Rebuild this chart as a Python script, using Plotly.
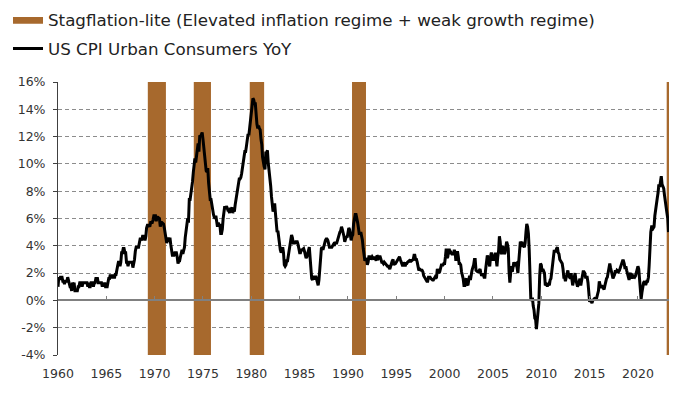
import plotly.graph_objects as go
import pandas as pd

# US CPI Urban Consumers YoY (%), monthly
cpi_1960s = [
    1.0, 1.7, 1.5, 1.7, 1.7, 1.7, 1.4, 1.4, 1.2, 1.4, 1.4, 1.4,
    1.7, 1.4, 1.4, 1.0, 1.0, 0.7, 1.3, 1.0, 1.3, 0.7, 0.7, 0.7,
    0.7, 1.0, 1.0, 1.3, 1.3, 1.3, 1.0, 1.3, 1.3, 1.3, 1.3, 1.3,
    1.3, 1.0, 1.3, 1.0, 1.0, 1.3, 1.3, 1.3, 1.0, 1.3, 1.3, 1.6,
    1.6, 1.6, 1.3, 1.3, 1.3, 1.3, 1.3, 1.0, 1.3, 1.0, 1.3, 1.0,
    1.0, 1.0, 1.3, 1.6, 1.6, 1.9, 1.6, 1.9, 1.6, 1.9, 1.6, 1.9,
    1.9, 2.5, 2.5, 2.8, 2.8, 2.5, 2.8, 3.5, 3.5, 3.8, 3.8, 3.5,
    3.5, 2.8, 2.8, 2.5, 2.8, 2.8, 2.8, 2.8, 2.8, 2.4, 2.7, 3.0,
    3.6, 3.9, 3.9, 3.9, 3.9, 4.2, 4.5, 4.5, 4.4, 4.7, 4.7, 4.7,
    4.4, 4.7, 5.3, 5.5, 5.5, 5.5, 5.4, 5.7, 5.7, 5.7, 5.9, 6.2,
]
cpi_1970s = [
    6.2, 6.2, 5.8, 6.1, 6.1, 6.0, 6.0, 5.4, 5.7, 5.7, 5.6, 5.6,
    5.3, 5.0, 4.7, 4.2, 4.4, 4.6, 4.4, 4.6, 4.1, 3.8, 3.3, 3.3,
    3.3, 3.5, 3.5, 3.5, 3.2, 2.7, 2.9, 2.9, 3.2, 3.4, 3.7, 3.4,
    3.6, 3.9, 4.6, 5.1, 5.5, 6.0, 5.7, 7.4, 7.4, 7.8, 8.3, 8.7,
    9.4, 10.0, 10.4, 10.1, 10.7, 10.9, 11.5, 10.9, 12.1, 12.0, 12.2, 12.3,
    11.8, 11.2, 10.3, 10.2, 9.5, 9.4, 9.7, 8.6, 7.9, 7.4, 7.4, 6.9,
    6.7, 6.3, 6.1, 6.0, 6.2, 5.9, 5.4, 5.7, 5.5, 5.5, 4.9, 4.9,
    5.2, 6.0, 6.4, 6.9, 6.7, 6.9, 6.8, 6.6, 6.6, 6.4, 6.7, 6.7,
    6.8, 6.4, 6.6, 6.5, 7.0, 7.4, 7.7, 7.9, 8.3, 8.9, 8.9, 9.0,
    9.3, 9.9, 10.1, 10.5, 10.9, 10.9, 11.3, 11.8, 12.2, 12.1, 12.6, 13.3,
]
cpi_1980s = [
    13.9, 14.2, 14.8, 14.7, 14.4, 14.4, 13.1, 12.9, 12.6, 12.8, 12.6, 12.5,
    11.8, 11.4, 10.5, 10.0, 9.8, 9.6, 10.8, 10.8, 11.0, 10.1, 9.6, 8.9,
    8.4, 7.6, 6.8, 6.5, 6.7, 7.1, 6.4, 5.9, 5.0, 5.1, 4.6, 3.8,
    3.7, 3.5, 3.6, 3.9, 3.5, 2.6, 2.5, 2.6, 2.9, 2.9, 3.3, 3.8,
    4.2, 4.6, 4.8, 4.6, 4.2, 4.2, 4.2, 4.3, 4.3, 4.3, 4.1, 3.9,
    3.5, 3.5, 3.7, 3.7, 3.8, 3.8, 3.6, 3.3, 3.1, 3.2, 3.5, 3.8,
    3.9, 3.1, 2.3, 1.6, 1.5, 1.8, 1.6, 1.6, 1.8, 1.5, 1.3, 1.1,
    1.5, 2.1, 3.0, 3.8, 3.9, 3.7, 3.9, 4.3, 4.4, 4.5, 4.5, 4.4,
    4.0, 3.9, 3.9, 3.9, 3.9, 4.0, 4.1, 4.0, 4.2, 4.2, 4.2, 4.4,
    4.7, 4.8, 5.0, 5.1, 5.4, 5.2, 5.0, 4.7, 4.3, 4.5, 4.7, 4.6,
]
cpi_1990s = [
    5.2, 5.3, 5.2, 4.7, 4.4, 4.7, 4.8, 5.6, 6.2, 6.3, 6.3, 6.1,
    5.7, 5.3, 4.9, 4.9, 5.0, 4.7, 4.4, 3.8, 3.4, 2.9, 3.0, 3.1,
    2.6, 2.8, 3.2, 3.2, 3.0, 3.1, 3.2, 3.1, 3.0, 3.2, 3.0, 2.9,
    3.3, 3.2, 3.1, 3.2, 3.2, 3.0, 2.8, 2.8, 2.7, 2.8, 2.7, 2.7,
    2.5, 2.5, 2.5, 2.4, 2.3, 2.5, 2.8, 2.9, 3.0, 2.6, 2.7, 2.7,
    2.8, 2.9, 2.9, 3.1, 3.2, 3.0, 2.8, 2.6, 2.5, 2.8, 2.6, 2.5,
    2.7, 2.7, 2.8, 2.9, 2.9, 2.8, 3.0, 2.9, 3.0, 3.0, 3.3, 3.3,
    3.0, 3.0, 2.8, 2.5, 2.2, 2.3, 2.2, 2.2, 2.2, 2.1, 1.8, 1.7,
    1.6, 1.4, 1.4, 1.4, 1.7, 1.7, 1.7, 1.6, 1.5, 1.5, 1.5, 1.6,
    1.7, 1.6, 1.7, 2.3, 2.1, 2.0, 2.1, 2.3, 2.6, 2.6, 2.6, 2.7,
]
cpi_2000s = [
    2.7, 3.2, 3.8, 3.1, 3.2, 3.7, 3.7, 3.4, 3.5, 3.4, 3.4, 3.4,
    3.7, 3.5, 2.9, 3.3, 3.6, 3.2, 2.7, 2.7, 2.6, 2.1, 1.9, 1.6,
    1.1, 1.1, 1.5, 1.6, 1.2, 1.1, 1.5, 1.8, 1.5, 2.0, 2.2, 2.4,
    2.6, 3.0, 3.0, 2.2, 2.1, 2.1, 2.1, 2.2, 2.3, 2.0, 1.8, 1.9,
    1.9, 1.7, 1.7, 2.3, 3.1, 3.3, 3.0, 2.7, 2.5, 3.2, 3.5, 3.3,
    3.0, 3.0, 3.1, 3.5, 2.8, 2.5, 3.2, 3.6, 4.7, 4.3, 3.5, 3.4,
    4.0, 3.6, 3.4, 3.5, 4.2, 4.3, 4.1, 3.8, 2.1, 1.3, 2.0, 2.5,
    2.1, 2.4, 2.8, 2.6, 2.7, 2.7, 2.4, 2.0, 2.8, 3.5, 4.3, 4.1,
    4.3, 4.0, 4.0, 3.9, 4.2, 5.0, 5.6, 5.4, 4.9, 3.7, 1.1, 0.1,
    0.0, 0.2, -0.4, -0.7, -1.3, -1.4, -2.1, -1.5, -1.3, -0.2, 1.8, 2.7,
]
cpi_2010s = [
    2.6, 2.1, 2.3, 2.2, 2.0, 1.1, 1.2, 1.1, 1.1, 1.2, 1.1, 1.5,
    1.6, 2.1, 2.7, 3.2, 3.6, 3.6, 3.6, 3.8, 3.9, 3.5, 3.4, 3.0,
    2.9, 2.9, 2.7, 2.3, 1.7, 1.7, 1.4, 1.7, 2.0, 2.2, 1.8, 1.7,
    1.6, 2.0, 1.5, 1.1, 1.4, 1.8, 2.0, 1.5, 1.2, 1.0, 1.2, 1.5,
    1.6, 1.1, 1.5, 2.0, 2.1, 2.1, 2.0, 1.7, 1.7, 1.7, 1.3, 0.8,
    -0.1, 0.0, -0.1, -0.2, 0.0, 0.1, 0.2, 0.2, 0.0, 0.2, 0.5, 0.7,
    1.4, 1.0, 0.9, 1.1, 1.0, 1.0, 0.8, 1.1, 1.5, 1.6, 1.7, 2.1,
    2.5, 2.7, 2.4, 2.2, 1.9, 1.6, 1.7, 1.9, 2.2, 2.0, 2.2, 2.1,
    2.1, 2.2, 2.4, 2.5, 2.8, 2.9, 2.9, 2.7, 2.3, 2.5, 2.2, 1.9,
    1.6, 1.5, 1.9, 2.0, 1.8, 1.6, 1.8, 1.7, 1.7, 1.8, 2.1, 2.3,
]
cpi_2020s = [
    2.5, 2.3, 1.5, 0.3, 0.1, 0.6, 1.0, 1.3, 1.4, 1.2, 1.2, 1.4,
    1.4, 1.7, 2.6, 4.2, 5.0, 5.4, 5.4, 5.3, 5.4, 6.2, 6.8, 7.0,
    7.5, 7.9, 8.5, 8.3, 8.6, 9.1, 8.5, 8.3, 8.2, 7.7, 7.1, 6.5,
    6.4, 6.0, 5.0,
]
series_start = "1960-01-01"

# Stagflation-lite regimes (start / end dates)
stag_start = ["1969-05-15", "1974-02-15", "1979-12-01", "1990-07-01", "2023-01-20"]
stag_end = ["1971-02-01", "1975-10-01", "1981-04-01", "1991-10-15", "2023-03-20"]

x_range = ["1960-01-01", "2023-03-20"]
y_range = [-4, 16]
y_ticks = [-4, -2, 0, 2, 4, 6, 8, 10, 12, 14, 16]

cpi = cpi_1960s + cpi_1970s + cpi_1980s + cpi_1990s + cpi_2000s + cpi_2010s + cpi_2020s
dates = pd.date_range(series_start, periods=len(cpi), freq="MS")

BROWN = "#A7692D"
FONT = "DejaVu Sans"

bx, by = [], []
for s, e in zip(stag_start, stag_end):
    bx += [s, s, e, e, s, None]
    by += [y_range[0], y_range[1], y_range[1], y_range[0], y_range[0], None]

fig = go.Figure()
fig.add_trace(go.Scatter(
    x=bx, y=by, mode="lines", fill="toself", fillcolor=BROWN,
    line=dict(color=BROWN, width=1.5),
    name="Stagflation-lite (Elevated inflation regime + weak growth regime)",
    legendgroup="a", hoverinfo="skip",
))
fig.add_trace(go.Scatter(
    x=dates, y=cpi, mode="lines", line=dict(color="black", width=3),
    name="US CPI Urban Consumers YoY", legendgroup="b",
))
# invisible trace to carry the zero-line axis
fig.add_trace(go.Scatter(x=[dates[0]], y=[0], xaxis="x2", mode="markers",
                         marker=dict(opacity=0), showlegend=False, hoverinfo="skip"))

fig.update_layout(
    width=700, height=394,
    margin=dict(l=50, r=39, t=74, b=47, autoexpand=False),
    paper_bgcolor="white", plot_bgcolor="white",
    font=dict(family=FONT, size=12.5, color="#333333"),
    showlegend=True,
    legend=dict(
        xref="paper", yref="paper", x=-50 / 611, y=1 + 79.5 / 273,
        xanchor="left", yanchor="top",
        font=dict(family=FONT, size=16.7, color="#222222"),
        traceorder="grouped", tracegroupgap=4,
        bgcolor="rgba(0,0,0,0)",
    ),
    xaxis=dict(
        type="date", range=x_range, tick0="1960-01-01", dtick="M60",
        tickformat="%Y", showgrid=False, zeroline=False, showline=False,
        ticks="", ticklabelstandoff=9, tickangle=0,
        tickfont=dict(family=FONT, size=12.5, color="#333333"),
    ),
    xaxis2=dict(
        type="date", range=x_range, overlaying="x", anchor="free",
        position=(0 - y_range[0]) / (y_range[1] - y_range[0]),
        side="bottom", tick0="1960-01-01", dtick="M60",
        showline=True, linecolor="#808080", linewidth=1.5,
        ticks="inside", ticklen=4, tickcolor="#808080", tickwidth=1,
        showticklabels=False, showgrid=False, zeroline=False,
    ),
    yaxis=dict(
        range=y_range, tickvals=y_ticks,
        ticktext=[f"{v}%" for v in y_ticks],
        showgrid=True, gridcolor="#8c8c8c", gridwidth=1, griddash="4px,3px",
        zeroline=False, showline=True, linecolor="#404040", linewidth=1,
        ticks="outside", ticklen=4, tickcolor="#404040", ticklabelstandoff=5,
        tickfont=dict(family=FONT, size=12.5, color="#333333"),
    ),
)

fig.write_html("out.html")
